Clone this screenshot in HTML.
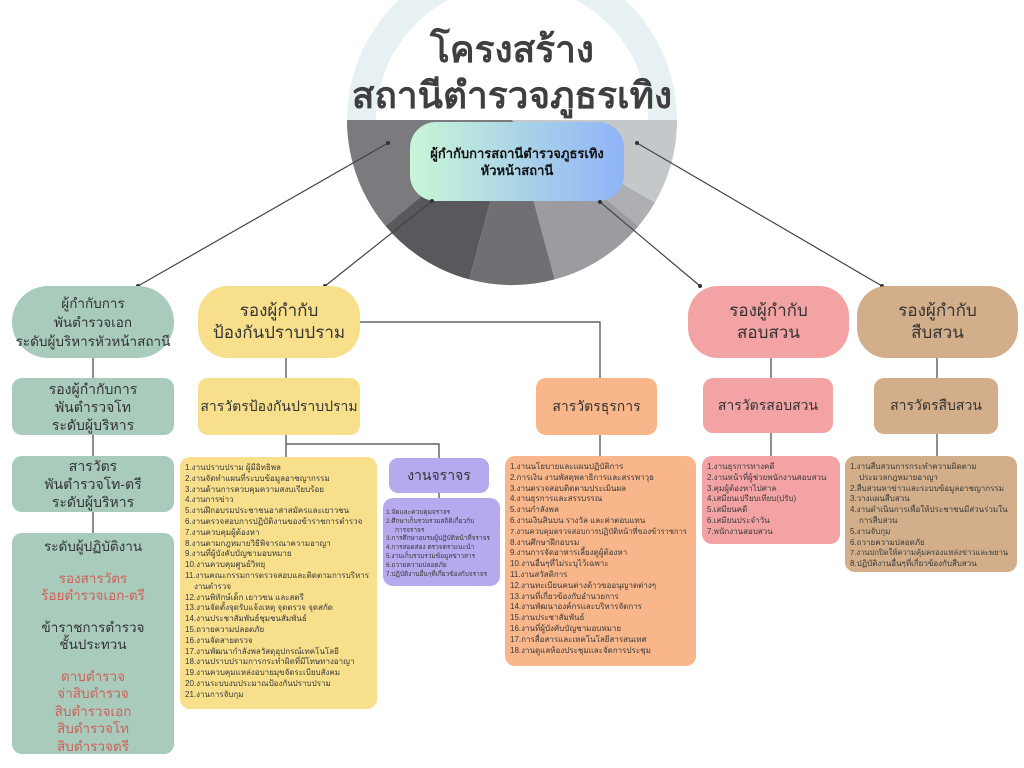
<!DOCTYPE html>
<html><head><meta charset="utf-8"><style>
body{margin:0;width:1024px;height:768px;background:#fff;position:relative;overflow:hidden;font-family:"Liberation Sans","DejaVu Sans",sans-serif;color:#333}
.b{position:absolute;display:flex;align-items:center;justify-content:center;text-align:center;box-sizing:border-box}
.l{position:absolute;box-sizing:border-box;font-size:8px;line-height:10.8px;padding:6px 5px;color:#3a3a3a;border-radius:10px;white-space:nowrap}
.l div.i{padding-left:9px}
.g{background:#a8cbbb}.y{background:#f7df8c}.o{background:#f8b68a}.p{background:#f4a3a4}.t{background:#d2af8a}.v{background:#b6a9ee}
.r{color:#d0605a}
</style></head><body>
<svg width="1024" height="768" style="position:absolute;left:0;top:0">
<circle cx="512" cy="120" r="165" fill="#e7f0f2"/>
<circle cx="512" cy="120" r="136" fill="#fff"/>
<g transform="translate(512,120)">
<path d="M0,0 L-165,0 A165,165 0 0 0 -126.4,106.1 Z" fill="#7a7a7f"/>
<path d="M0,0 L-126.4,106.1 A165,165 0 0 0 -42.7,159.4 Z" fill="#58585d"/>
<path d="M0,0 L-42.7,159.4 A165,165 0 0 0 42.7,159.4 Z" fill="#6f6f74"/>
<path d="M0,0 L42.7,159.4 A165,165 0 0 0 126.4,106.1 Z" fill="#9c9ca0"/>
<path d="M0,0 L126.4,106.1 A165,165 0 0 0 142.9,82.5 Z" fill="#adafb2"/>
<path d="M0,0 L142.9,82.5 A165,165 0 0 0 165,0 Z" fill="#c5c8cb"/>
</g>
<defs><linearGradient id="gr" x1="0" x2="1"><stop offset="0" stop-color="#c9f6d6"/><stop offset="1" stop-color="#8fb3f8"/></linearGradient></defs>
<rect x="410" y="122" width="214" height="79" rx="26" fill="url(#gr)"/>
<g stroke="#444" stroke-width="1.2" fill="none">
<line x1="388" y1="143" x2="138" y2="286"/>
<line x1="432" y1="201" x2="325" y2="286"/>
<line x1="600" y1="202" x2="700" y2="286"/>
<line x1="637" y1="143" x2="882" y2="286"/>
<line x1="93" y1="358" x2="93" y2="533"/>
<polyline points="360,322 600,322 600,378"/>
<line x1="286" y1="358" x2="286" y2="378"/>
<line x1="286" y1="435" x2="286" y2="457"/>
<polyline points="286,444 439,444 439,458"/>
<line x1="439" y1="493" x2="439" y2="498"/>
<line x1="600" y1="435" x2="600" y2="456"/>
<line x1="771" y1="358" x2="771" y2="456"/>
<line x1="937" y1="358" x2="937" y2="456"/>
</g>
<g fill="#333"><circle cx="388" cy="143" r="2"/><circle cx="432" cy="201" r="2"/><circle cx="600" cy="202" r="2"/><circle cx="637" cy="143" r="2"/><circle cx="138" cy="286" r="2"/><circle cx="325" cy="286" r="2"/><circle cx="700" cy="286" r="2"/><circle cx="882" cy="286" r="2"/></g>
</svg>
<div class="b" style="left:340px;top:28px;width:344px;height:90px;font-size:37px;font-weight:bold;line-height:46px;color:#3f3f42">โครงสร้าง<br>สถานีตำรวจภูธรเทิง</div>
<div class="b" style="left:410px;top:122px;width:214px;height:79px;font-size:13px;font-weight:bold;line-height:17px;color:#111">ผู้กำกับการสถานีตำรวจภูธรเทิง<br>หัวหน้าสถานี</div>

<div class="b g" style="left:12px;top:286px;width:162px;height:72px;border-radius:36px;font-size:13.5px;line-height:19px">ผู้กำกับการ<br>พันตำรวจเอก<br>ระดับผู้บริหารหัวหน้าสถานี</div>
<div class="b g" style="left:12px;top:378px;width:162px;height:57px;border-radius:10px;font-size:14px;line-height:18px">รองผู้กำกับการ<br>พันตำรวจโท<br>ระดับผู้บริหาร</div>
<div class="b g" style="left:12px;top:456px;width:162px;height:56px;border-radius:10px;font-size:14px;line-height:18px">สารวัตร<br>พันตำรวจโท-ตรี<br>ระดับผู้บริหาร</div>
<div class="g" style="position:absolute;box-sizing:border-box;left:12px;top:533px;width:162px;height:221px;border-radius:10px;font-size:13.5px;line-height:17.5px;text-align:center;padding-top:5px">
<div>ระดับผู้ปฏิบัติงาน</div>
<div class="r" style="margin-top:14px">รองสารวัตร<br>ร้อยตำรวจเอก-ตรี</div>
<div style="margin-top:14px">ข้าราชการตำรวจ<br>ชั้นประทวน</div>
<div class="r" style="margin-top:14px">ดาบตำรวจ<br>จ่าสิบตำรวจ<br>สิบตำรวจเอก<br>สิบตำรวจโท<br>สิบตำรวจตรี</div>
</div>

<div class="b y" style="left:198px;top:286px;width:162px;height:72px;border-radius:30px;font-size:17px;line-height:22px">รองผู้กำกับ<br>ป้องกันปราบปราม</div>
<div class="b y" style="left:198px;top:378px;width:162px;height:57px;border-radius:10px;font-size:14px">สารวัตรป้องกันปราบปราม</div>
<div class="b o" style="left:536px;top:378px;width:121px;height:57px;border-radius:10px;font-size:14px">สารวัตรธุรการ</div>
<div class="b v" style="left:389px;top:458px;width:100px;height:35px;border-radius:9px;font-size:14px">งานจราจร</div>

<div class="b p" style="left:688px;top:286px;width:161px;height:72px;border-radius:30px;font-size:17px;line-height:22px">รองผู้กำกับ<br>สอบสวน</div>
<div class="b p" style="left:703px;top:378px;width:130px;height:55px;border-radius:10px;font-size:14px">สารวัตรสอบสวน</div>
<div class="b t" style="left:857px;top:286px;width:161px;height:72px;border-radius:30px;font-size:17px;line-height:22px">รองผู้กำกับ<br>สืบสวน</div>
<div class="b t" style="left:874px;top:378px;width:124px;height:56px;border-radius:10px;font-size:14px">สารวัตรสืบสวน</div>

<div class="l y" style="left:180px;top:457px;width:197px;height:252px">1.งานปราบปราม ผู้มีอิทธิพล<br>2.งานจัดทำแผนที่ระบบข้อมูลอาชญากรรม<br>3.งานด้านการควบคุมความสงบเรียบร้อย<br>4.งานการข่าว<br>5.งานฝึกอบรมประชาชนอาสาสมัครและเยาวชน<br>6.งานตรวจสอบการปฏิบัติงานของข้าราชการตำรวจ<br>7.งานควบคุมผู้ต้องหา<br>8.งานตามกฎหมายวิธีพิจารณาความอาญา<br>9.งานที่ผู้บังคับบัญชามอบหมาย<br>10.งานควบคุมศูนย์วิทยุ<br>11.งานคณะกรรมการตรวจสอบและติดตามการบริหาร<div class="i">งานตำรวจ</div>12.งานพิทักษ์เด็ก เยาวชน และสตรี<br>13.งานจัดตั้งจุดรับแจ้งเหตุ จุดตรวจ จุดสกัด<br>14.งานประชาสัมพันธ์ชุมชนสัมพันธ์<br>15.ถวายความปลอดภัย<br>16.งานจัดสายตรวจ<br>17.งานพัฒนากำลังพลวัสดุอุปกรณ์เทคโนโลยี<br>18.งานปราบปรามการกระทำผิดที่มีโทษทางอาญา<br>19.งานควบคุมแหล่งอบายมุขจัดระเบียบสังคม<br>20.งานระบบงบประมาณป้องกันปราบปราม<br>21.งานการจับกุม</div>

<div class="l v" style="left:383px;top:498px;width:117px;height:88px;font-size:6.5px;line-height:8.8px;padding:11px 3px">1.จัดและควบคุมจราจร<br>2.ศึกษาเก็บรวบรวมสถิติเกี่ยวกับ<div class="i">การจราจร</div>3.การศึกษาอบรมผู้ปฏิบัติหน้าที่จราจร<br>4.การสอดส่อง ตรวจตราแนะนำ<br>5.งานเก็บรวบรวมข้อมูลข่าวสาร<br>6.ถวายความปลอดภัย<br>7.ปฏิบัติงานอื่นๆที่เกี่ยวข้องกับจราจร</div>

<div class="l o" style="left:505px;top:456px;width:191px;height:210px">1.งานนโยบายและแผนปฏิบัติการ<br>2.การเงิน งานพัสดุพลาธิการและสรรพาวุธ<br>3.งานตรวจสอบติดตามประเมินผล<br>4.งานธุรการและสรรบรรณ<br>5.งานกำลังพล<br>6.งานเงินสินบน รางวัล และค่าตอบแทน<br><span style="font-size:7.6px">7.งานควบคุมตรวจสอบการปฏิบัติหน้าที่ของข้าราชการ</span><br>8.งานศึกษาฝึกอบรม<br>9.งานการจัดอาหารเลี้ยงดูผู้ต้องหา<br>10.งานอื่นๆที่ไม่ระบุไว้เฉพาะ<br>11.งานสวัสดิการ<br>12.งานทะเบียนคนต่างด้าวขออนุญาตต่างๆ<br>13.งานที่เกี่ยวข้องกับอำนวยการ<br>14.งานพัฒนาองค์กรและบริหารจัดการ<br>15.งานประชาสัมพันธ์<br>16.งานที่ผู้บังคับบัญชามอบหมาย<br>17.การสื่อสารและเทคโนโลยีสารสนเทศ<br>18.งานดูแลห้องประชุมและจัดการประชุม</div>

<div class="l p" style="left:702px;top:456px;width:138px;height:88px">1.งานธุรการทางคดี<br>2.งานหน้าที่ผู้ช่วยพนักงานสอบสวน<br>3.คุมผู้ต้องหาไปศาล<br>4.เสมียนเปรียบเทียบ(ปรับ)<br>5.เสมียนคดี<br>6.เสมียนประจำวัน<br>7.พนักงานสอบสวน</div>

<div class="l t" style="left:845px;top:456px;width:172px;height:116px">1.งานสืบสวนการกระทำความผิดตาม<div class="i">ประมวลกฎหมายอาญา</div>2.สืบสวนหาข่าวและระบบข้อมูลอาชญากรรม<br>3.วางแผนสืบสวน<br>4.งานดำเนินการเพื่อให้ประชาชนมีส่วนร่วมใน<div class="i">การสืบสวน</div>5.งานจับกุม<br>6.ถวายความปลอดภัย<br><span style="font-size:7.6px">7.งานปกปิดให้ความคุ้มครองแหล่งข่าวและพยาน</span><br>8.ปฏิบัติงานอื่นๆที่เกี่ยวข้องกับสืบสวน</div>
</body></html>
